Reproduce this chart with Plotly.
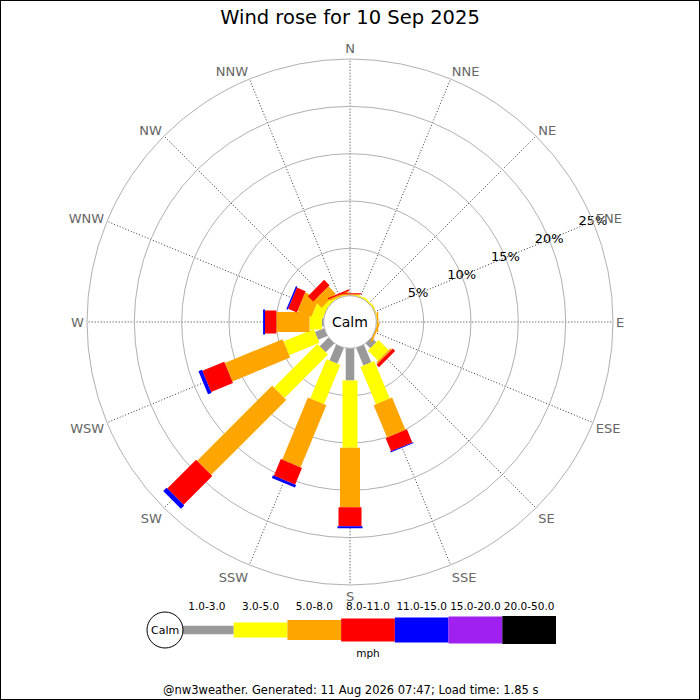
import plotly.graph_objects as go

# Direcoes da rosa dos ventos (16 pontos), em graus a partir do norte
direcoes = ['N', 'NNE', 'NE', 'ENE', 'E', 'ESE', 'SE', 'SSE',
            'S', 'SSW', 'SW', 'WSW', 'W', 'WNW', 'NW', 'NNW']
angulos = [i * 22.5 for i in range(16)]

# Faixas de velocidade (mph)
faixas = ['1.0-3.0', '3.0-5.0', '5.0-8.0', '8.0-11.0',
          '11.0-15.0', '15.0-20.0', '20.0-50.0']
cores = ['#999999', '#ffff00', '#ffa500', '#ff0000',
         '#0000ff', '#a020f0', '#000000']

# Percentagem do tempo em cada direcao, por faixa
faixa_1_3 = [0, 0, 0, 0, 0, 0, 0.7, 2.0, 3.4, 1.8, 1.3, 1.05, 0.2, 0, 0, 0]
faixa_3_5 = [0.05, 0.15, 0.15, 0.1, 0.05, 0, 1.5, 4.3, 7.1, 4.5, 6.5, 3.45, 1.3, 1.2, 0.4, 0.1]
faixa_5_8 = [0.1, 0, 0, 0.05, 0.15, 0.2, 0.2, 3.7, 6.3, 7.1, 11.2, 6.6, 3.5, 1.6, 1.1, 0.2]
faixa_8_11 = [0.1, 0, 0, 0, 0, 0, 0.35, 1.5, 2.0, 1.9, 4.3, 2.5, 1.2, 1.0, 0.8, 0.15]
faixa_11_15 = [0, 0, 0, 0, 0, 0, 0, 0.1, 0.2, 0.3, 0.5, 0.4, 0.2, 0.15, 0, 0]
faixa_15_20 = [0] * 16
faixa_20_50 = [0] * 16

series = [faixa_1_3, faixa_3_5, faixa_5_8, faixa_8_11,
          faixa_11_15, faixa_15_20, faixa_20_50]

aneis = [5, 10, 15, 20, 25]
rotulos_aneis = ['5%', '10%', '15%', '20%', '25%']

# espessura (px) de cada faixa: barras retangulares que alargam com a velocidade
larguras = [8.5, 15, 20, 23, 25, 27, 28]

FONTE = 'DejaVu Sans'

fig = go.Figure()

# Barras empilhadas: cada segmento vai do acumulado anterior ao atual
acumulado = [0.0] * 16
for serie, cor, larg, nome in zip(series, cores, larguras, faixas):
    r, th = [], []
    for i in range(16):
        inicio = acumulado[i]
        fim = inicio + serie[i]
        if serie[i] > 0:
            r += [inicio, fim, None]
            th += [angulos[i], angulos[i], None]
        acumulado[i] = fim
    fig.add_trace(go.Scatterpolar(
        r=r, theta=th, mode='lines', name=nome,
        line=dict(color=cor, width=larg),
        connectgaps=False, hoverinfo='skip',
    ))

# Rotulos dos aneis ao longo da direcao ENE
fig.add_trace(go.Scatterpolar(
    r=aneis, theta=[67.5] * len(aneis), mode='text',
    text=rotulos_aneis, textfont=dict(family=FONTE, size=13, color='black'),
    hoverinfo='skip',
))

# Legenda de cores (eixo cartesiano escondido)
for i, (cor, larg) in enumerate(zip(cores, larguras)):
    fig.add_trace(go.Scatter(
        x=[i, i + 1], y=[0, 0], mode='lines',
        line=dict(color=cor, width=larg),
        xaxis='x', yaxis='y', hoverinfo='skip',
    ))
fig.add_trace(go.Scatter(
    x=[i + 0.5 for i in range(len(faixas))], y=[0.57] * len(faixas),
    mode='text', text=faixas, cliponaxis=False,
    textfont=dict(family=FONTE, size=10.5, color='black'),
    xaxis='x', yaxis='y', hoverinfo='skip',
))
fig.add_trace(go.Scatter(
    x=[3.5], y=[-0.6], mode='text', text=['mph'], cliponaxis=False,
    textfont=dict(family=FONTE, size=10.5, color='black'),
    xaxis='x', yaxis='y', hoverinfo='skip',
))

fig.update_layout(
    width=700, height=700,
    margin=dict(l=0, r=0, t=0, b=0),
    paper_bgcolor='white',
    plot_bgcolor='white',
    showlegend=False,
    font=dict(family=FONTE, color='black'),
    title=dict(text='Wind rose for 10 Sep 2025', x=0.5, xanchor='center',
               y=1 - 17 / 700, yanchor='middle',
               font=dict(family=FONTE, size=19.5, color='black')),
    polar=dict(
        domain=dict(x=[87 / 700, 613 / 700], y=[1 - 585 / 700, 1 - 59 / 700]),
        hole=0.1,
        bgcolor='white',
        radialaxis=dict(
            range=[0, 25], tickvals=aneis, showticklabels=False, ticks='',
            showline=False, gridcolor='#b0b0b0', gridwidth=1, angle=22.5,
        ),
        angularaxis=dict(
            direction='clockwise', rotation=90,
            tickmode='array', tickvals=angulos, ticktext=direcoes,
            ticks='', showline=True, linecolor='#b0b0b0', linewidth=1,
            gridcolor='#333333', griddash='1px,2px', gridwidth=1,
            tickfont=dict(family=FONTE, size=13, color='#666666'),
        ),
    ),
    xaxis=dict(domain=[180 / 700, 556 / 700], range=[0, 7], visible=False,
               fixedrange=True),
    yaxis=dict(domain=[1 - 670 / 700, 1 - 590 / 700], range=[-1, 1],
               visible=False, fixedrange=True),
    shapes=[
        # circulo "Calm" da legenda
        dict(type='circle', xref='paper', yref='paper',
             x0=147 / 700, x1=183 / 700, y0=1 - 648 / 700, y1=1 - 612 / 700,
             line=dict(color='black', width=1), fillcolor='white'),
        # moldura
        dict(type='rect', xref='paper', yref='paper', x0=0, x1=1, y0=0, y1=1,
             line=dict(color='black', width=2)),
    ],
    annotations=[
        dict(text='Calm', x=0.5, y=1 - 322 / 700, xref='paper', yref='paper',
             xanchor='center', yanchor='middle', showarrow=False,
             font=dict(family=FONTE, size=14, color='black')),
        dict(text='Calm', x=165 / 700, y=1 - 630 / 700, xref='paper', yref='paper',
             xanchor='center', yanchor='middle', showarrow=False,
             font=dict(family=FONTE, size=11, color='black')),
        dict(text='@nw3weather. Generated: 11 Aug 2026 07:47; Load time: 1.85 s',
             x=0.5, y=1 - 690 / 700, xref='paper', yref='paper',
             xanchor='center', yanchor='middle', showarrow=False,
             font=dict(family=FONTE, size=11.5, color='black')),
    ],
)

# tira a margem de 8px do <body> para a figura ocupar a janela toda
fig.write_html('out.html', config={'displayModeBar': False},
               post_script="document.body.style.margin='0';")
